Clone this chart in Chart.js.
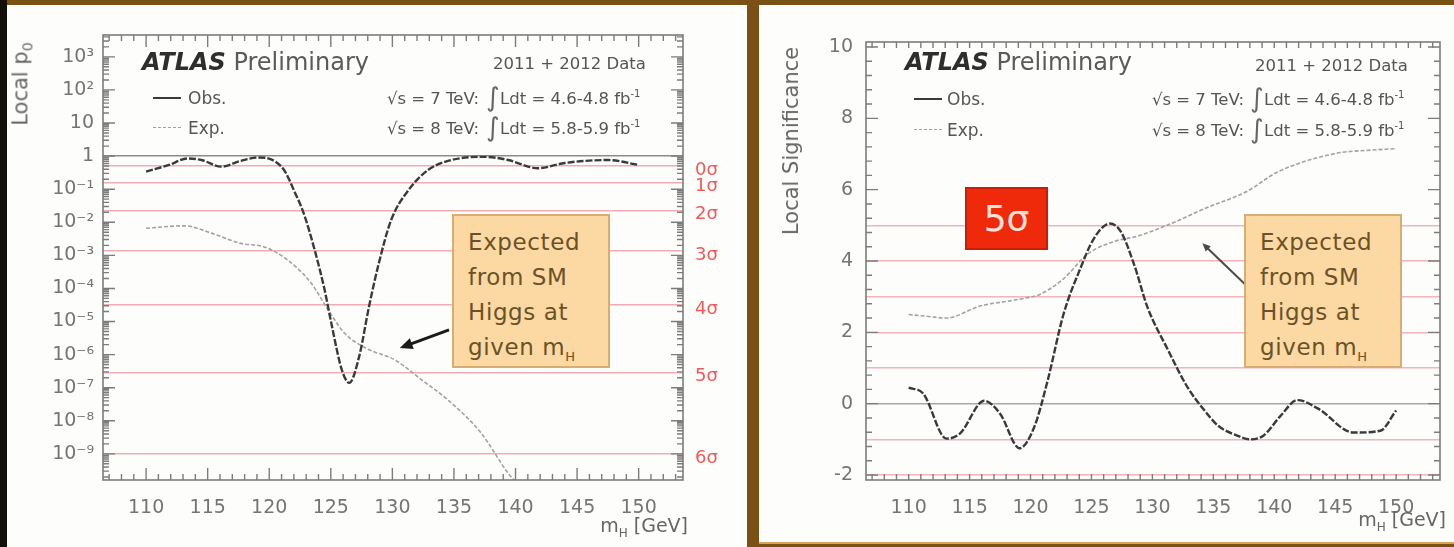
<!DOCTYPE html>
<html>
<head>
<meta charset="UTF-8">
<title>ATLAS local p0 and local significance</title>
<script src="https://cdn.jsdelivr.net/npm/chart.js"></script>
<style>
  body { margin: 0; width: 1454px; height: 547px; background: #7a5114; overflow: hidden; }
  #stage { position: absolute; left: 0; top: 0; width: 1454px; height: 547px; filter: blur(0.5px); }
  .box { position: absolute; }
  canvas { position: absolute; }
  .t { position: absolute; white-space: nowrap; transform: translateY(-50%); font-family: "DejaVu Sans", sans-serif; color: #4a4a4a; }
  .atlas b { font-style: italic; color: #2e2e2e; }
  .atlas { font-size: 24px; color: #5a5a5a; }
  .leg { font-size: 17px; color: #555; }
  .legline { position: absolute; width: 28px; }
  .info { font-size: 16.5px; color: #555; }
  .int { font-size: 26px; color: #666; }
  .ytitle { position: absolute; white-space: nowrap; font-family: "DejaVu Sans", sans-serif; font-size: 21px; color: #666; transform: translate(-50%, -50%) rotate(-90deg); }
  .xtitle { font-size: 19px; color: #666; }
  .note { position: absolute; background: #fcd9a3; border: 2px solid #d8ad74; box-sizing: border-box; }
  .note div { font-family: "DejaVu Sans", sans-serif; font-size: 23px; color: #6a5228; line-height: 35px; letter-spacing: 0.6px; padding: 9px 0 0 14px; }
  .five { position: absolute; background: #ee2a0a; border: 2px solid #c81e05; box-sizing: border-box; color: #ffe2da; font-family: "DejaVu Sans", sans-serif; font-size: 36px; text-align: center; line-height: 59px; }
</style>
</head>
<body>
<div id="stage">
  <!-- frame pieces -->
  <div class="box" style="left:0;top:0;width:7px;height:547px;background:#121008"></div>
  <div class="box" style="left:7px;top:5px;width:740px;height:542px;background:#fdfdfc"></div>
  <div class="box" style="left:747px;top:0;width:12px;height:547px;background:#7a5015"></div>
  <div class="box" style="left:759px;top:5px;width:695px;height:537px;background:#fdfdfc"></div>
  <div class="box" style="left:759px;top:542px;width:695px;height:2px;background:#d9a458"></div>

  <canvas id="pChart" width="738" height="539" style="left:8px;top:8px"></canvas>
  <canvas id="zChart" width="694" height="539" style="left:760px;top:8px"></canvas>

  <!-- left panel text -->
  <div class="ytitle" style="left:22px;top:84px">Local p<sub style="font-size:14px">0</sub></div>
  <div class="t atlas" style="left:142px;top:62px"><b>ATLAS</b> Preliminary</div>
  <div class="legline" style="left:153px;top:97px;border-top:2.5px solid #3a3a3a"></div>
  <div class="t leg" style="left:188px;top:98px">Obs.</div>
  <div class="legline" style="left:153px;top:127px;border-top:1.5px dashed #a0a0a0"></div>
  <div class="t leg" style="left:188px;top:128px">Exp.</div>
  <div class="t info" style="left:493px;top:63px">2011 + 2012 Data</div>
  <div class="t info" style="right:975px;top:98px">√s = 7 TeV:</div>
  <div class="t info" style="right:975px;top:128px">√s = 8 TeV:</div>
  <div class="t int" style="left:486px;top:97px">∫</div>
  <div class="t int" style="left:486px;top:127px">∫</div>
  <div class="t info" style="left:500px;top:98px">Ldt = 4.6-4.8 fb<sup style="font-size:10px">-1</sup></div>
  <div class="t info" style="left:500px;top:128px">Ldt = 5.8-5.9 fb<sup style="font-size:10px">-1</sup></div>
  <div class="note" style="left:452px;top:214px;width:158px;height:154px"><div>Expected<br>from SM<br>Higgs at<br>given m<sub style="font-size:13px">H</sub></div></div>
  <div class="t xtitle" style="right:766px;top:527px">m<sub style="font-size:12px">H</sub> [GeV]</div>

  <!-- right panel text -->
  <div class="ytitle" style="left:791px;top:141px">Local Significance</div>
  <div class="t atlas" style="left:905px;top:62px"><b>ATLAS</b> Preliminary</div>
  <div class="legline" style="left:914px;top:98px;border-top:2.5px solid #3a3a3a"></div>
  <div class="t leg" style="left:947px;top:99px">Obs.</div>
  <div class="legline" style="left:914px;top:129px;border-top:1.5px dashed #a0a0a0"></div>
  <div class="t leg" style="left:947px;top:130px">Exp.</div>
  <div class="t info" style="left:1255px;top:65px">2011 + 2012 Data</div>
  <div class="t info" style="right:210px;top:99px">√s = 7 TeV:</div>
  <div class="t info" style="right:210px;top:130px">√s = 8 TeV:</div>
  <div class="t int" style="left:1250px;top:98px">∫</div>
  <div class="t int" style="left:1250px;top:129px">∫</div>
  <div class="t info" style="left:1264px;top:99px">Ldt = 4.6-4.8 fb<sup style="font-size:10px">-1</sup></div>
  <div class="t info" style="left:1264px;top:130px">Ldt = 5.8-5.9 fb<sup style="font-size:10px">-1</sup></div>
  <div class="five" style="left:965px;top:187px;width:83px;height:63px">5σ</div>
  <div class="note" style="left:1244px;top:214px;width:158px;height:154px"><div>Expected<br>from SM<br>Higgs at<br>given m<sub style="font-size:13px">H</sub></div></div>
  <div class="t xtitle" style="right:8px;top:521px">m<sub style="font-size:12px">H</sub> [GeV]</div>
</div>

<script>
  // ---- data ----
  const massTicks = [110, 115, 120, 125, 130, 135, 140, 145, 150];

  const pDecades = [1e-9, 1e-8, 1e-7, 1e-6, 1e-5, 1e-4, 1e-3, 1e-2, 1e-1, 1, 10, 100, 1000];
  const pDecadeLabels = ['10⁻⁹', '10⁻⁸', '10⁻⁷', '10⁻⁶', '10⁻⁵', '10⁻⁴', '10⁻³', '10⁻²', '10⁻¹', '1', '10', '10²', '10³'];

  const sigmaP = [9.87e-10, 2.87e-7, 3.17e-5, 1.35e-3, 0.02275, 0.1587, 0.5];
  const sigmaLabels = ['6σ', '5σ', '4σ', '3σ', '2σ', '1σ', '0σ'];

  const obsMassP = [110.0, 111.8, 113.4, 114.5, 116.1, 117.7, 119.1, 120.1, 121.2, 122.0, 122.8, 123.7, 124.5, 125.1, 125.9, 126.5, 127.3, 128.1, 128.9, 129.9, 131.3, 132.9, 134.8, 137.5, 139.4, 141.8, 144.0, 147.5, 150.0];
  const obsP0 = [0.34, 0.53, 0.85, 0.76, 0.48, 0.72, 0.91, 0.81, 0.38, 0.093, 0.0186, 1.4e-3, 8.9e-5, 6.9e-6, 3.4e-7, 1.4e-7, 8.7e-7, 2.8e-5, 5.8e-4, 0.0117, 0.093, 0.38, 0.76, 0.95, 0.76, 0.43, 0.62, 0.76, 0.54];

  const expMassP = [110.0, 113.1, 115.3, 117.7, 119.6, 121.5, 123.4, 124.8, 126.1, 127.8, 130.2, 132.4, 134.5, 137.2, 139.4, 140.2];
  const expP0 = [6.6e-3, 7.8e-3, 4.7e-3, 2.3e-3, 1.8e-3, 7.2e-4, 1.45e-4, 2.2e-5, 4.5e-6, 1.6e-6, 6.9e-7, 1.7e-7, 4.3e-8, 4.3e-9, 2.6e-10, 1.2e-10];

  const sigTicks = [-2, 0, 2, 4, 6, 8, 10];
  const sigLines = [-2, -1, 0, 1, 2, 3, 4, 5];

  const obsMassZ = [110.0, 111.2, 113.1, 114.2, 116.2, 117.5, 119.1, 120.3, 121.4, 122.7, 124.1, 125.2, 126.5, 127.4, 128.5, 129.6, 131.2, 132.9, 134.3, 135.4, 137.0, 138.0, 139.1, 140.5, 141.9, 143.6, 146.5, 148.7, 150.0];
  const obsZ = [0.45, 0.28, -0.98, -0.84, 0.08, -0.28, -1.25, -0.66, 0.64, 2.5, 3.8, 4.63, 5.05, 4.83, 3.9, 2.7, 1.56, 0.45, -0.2, -0.62, -0.9, -1.0, -0.9, -0.35, 0.1, -0.14, -0.81, -0.76, -0.19];

  const expMassZ = [110.0, 111.5, 113.1, 115.8, 119.1, 120.8, 122.7, 124.7, 126.9, 128.8, 131.2, 134.5, 137.7, 140.3, 145.1, 147.5, 150.0];
  const expZ = [2.5, 2.45, 2.4, 2.73, 2.93, 3.07, 3.5, 4.2, 4.55, 4.7, 5.0, 5.5, 5.94, 6.5, 7.02, 7.1, 7.15];

  // axis ranges (ROOT frame edges)
  const massMin = 106.5, massMax = 153.6;
  const pMin = Math.pow(10, -9.79), pMax = Math.pow(10, 3.66);
  const zMin = -2.14, zMax = 10.14;

  // minor tick positions
  const massMinor = [];
  for (let m = 107; m <= 153; m++) massMinor.push(m);
  const pMinor = [];
  for (let e = -10; e <= 3; e++) for (let k = 2; k <= 9; k++) pMinor.push(k * Math.pow(10, e));
  const zMinor = [];
  for (let v = -2; v <= 10.001; v += 0.4) zMinor.push(Math.round(v * 10) / 10);

  const tickFont = { family: 'DejaVu Sans', size: 19 };
  const obsStyle = { borderColor: '#3a3a3a', borderWidth: 2.4, borderDash: [7, 2] };
  const expStyle = { borderColor: '#a2a2a2', borderWidth: 1.6, borderDash: [4, 2] };

  const pts = (xs, ys) => xs.map((x, i) => ({ x: x, y: ys[i] }));

  // ROOT style frame with inward ticks on all four sides
  function framePlugin(xMajor, xMinor, yMajor, yMinor) {
    return {
      id: 'frame',
      afterDatasetsDraw(chart) {
        const { ctx, chartArea: a, scales: { x, y } } = chart;
        const inX = v => v >= x.min && v <= x.max;
        const inY = v => v >= y.min && v <= y.max;
        ctx.save();
        ctx.strokeStyle = '#7c7c7c';
        ctx.lineWidth = 1.4;
        ctx.beginPath();
        const xt = (vals, len) => vals.filter(inX).forEach(v => {
          const px = x.getPixelForValue(v);
          ctx.moveTo(px, a.bottom); ctx.lineTo(px, a.bottom - len);
          ctx.moveTo(px, a.top); ctx.lineTo(px, a.top + len);
        });
        const yt = (vals, len) => vals.filter(inY).forEach(v => {
          const py = y.getPixelForValue(v);
          ctx.moveTo(a.left, py); ctx.lineTo(a.left + len, py);
          ctx.moveTo(a.right, py); ctx.lineTo(a.right - len, py);
        });
        xt(xMajor, 12); xt(xMinor, 6);
        yt(yMajor, 12); yt(yMinor, 6);
        ctx.stroke();
        ctx.lineWidth = 1.6;
        ctx.strokeRect(a.left, a.top, a.right - a.left, a.bottom - a.top);
        ctx.restore();
      }
    };
  }

  // annotation arrow given in data coordinates
  function arrowPlugin(from, to, color, width, head) {
    return {
      id: 'arrow',
      afterDatasetsDraw(chart) {
        const { ctx, scales: { x, y } } = chart;
        const x0 = x.getPixelForValue(from[0]), y0 = y.getPixelForValue(from[1]);
        const x1 = x.getPixelForValue(to[0]), y1 = y.getPixelForValue(to[1]);
        const ang = Math.atan2(y1 - y0, x1 - x0);
        ctx.save();
        ctx.strokeStyle = color;
        ctx.fillStyle = color;
        ctx.lineWidth = width;
        ctx.beginPath();
        ctx.moveTo(x0, y0);
        ctx.lineTo(x1 - Math.cos(ang) * head * 0.6, y1 - Math.sin(ang) * head * 0.6);
        ctx.stroke();
        ctx.beginPath();
        ctx.moveTo(x1, y1);
        ctx.lineTo(x1 - head * Math.cos(ang - 0.42), y1 - head * Math.sin(ang - 0.42));
        ctx.lineTo(x1 - head * Math.cos(ang + 0.42), y1 - head * Math.sin(ang + 0.42));
        ctx.closePath();
        ctx.fill();
        ctx.restore();
      }
    };
  }

  const massAxis = {
    type: 'linear', position: 'bottom', min: massMin, max: massMax,
    afterBuildTicks: s => { s.ticks = massTicks.map(v => ({ value: v })); },
    afterFit: s => { s.height = 67; },
    grid: { display: false },
    border: { display: false },
    ticks: { autoSkip: false, maxRotation: 0, padding: 9, color: '#747474', font: tickFont, callback: v => String(v) }
  };

  // ---- left: local p0 ----
  new Chart(document.getElementById('pChart'), {
    type: 'line',
    data: {
      datasets: [
        Object.assign({ label: 'Obs.', data: pts(obsMassP, obsP0) }, obsStyle),
        Object.assign({ label: 'Exp.', data: pts(expMassP, expP0) }, expStyle)
      ]
    },
    options: {
      responsive: false, animation: false, devicePixelRatio: 1,
      layout: { padding: { top: 27, left: 0, right: 0, bottom: 0 } },
      elements: { point: { radius: 0 }, line: { cubicInterpolationMode: 'monotone' } },
      plugins: { legend: { display: false }, tooltip: { enabled: false } },
      scales: {
        x: massAxis,
        y: {
          type: 'logarithmic', position: 'left', min: pMin, max: pMax,
          afterBuildTicks: s => { s.ticks = pDecades.map(v => ({ value: v })); },
          afterFit: s => { s.width = 95; },
          grid: { drawTicks: false, lineWidth: 1.5, color: c => (c.tick && c.tick.value === 1) ? '#8c8c8c' : 'rgba(0,0,0,0)' },
          border: { display: false },
          ticks: { autoSkip: false, padding: 9, color: '#747474', font: tickFont, callback: (v, i) => pDecadeLabels[i] }
        },
        sig: {
          type: 'logarithmic', position: 'right', min: pMin, max: pMax,
          afterBuildTicks: s => { s.ticks = sigmaP.map(v => ({ value: v })); },
          afterFit: s => { s.width = 63; },
          grid: { drawTicks: false, lineWidth: 1.5, color: 'rgba(232,120,130,0.6)' },
          border: { display: false },
          ticks: { autoSkip: false, padding: 12, labelOffset: 4, color: '#ee5a5a', font: { family: 'DejaVu Sans', size: 18 }, callback: (v, i) => sigmaLabels[i] }
        }
      }
    },
    plugins: [
      framePlugin(massTicks, massMinor, pDecades, pMinor),
      arrowPlugin([134.6, Math.pow(10, -5.25)], [130.6, Math.pow(10, -5.8)], '#1a1a1a', 3, 14)
    ]
  });

  // ---- right: local significance ----
  new Chart(document.getElementById('zChart'), {
    type: 'line',
    data: {
      datasets: [
        Object.assign({ label: 'Obs.', data: pts(obsMassZ, obsZ) }, obsStyle),
        Object.assign({ label: 'Exp.', data: pts(expMassZ, expZ) }, expStyle)
      ]
    },
    options: {
      responsive: false, animation: false, devicePixelRatio: 1,
      layout: { padding: { top: 34, left: 0, right: 14, bottom: 0 } },
      elements: { point: { radius: 0 }, line: { cubicInterpolationMode: 'monotone' } },
      plugins: { legend: { display: false }, tooltip: { enabled: false } },
      scales: {
        x: massAxis,
        y: {
          type: 'linear', position: 'left', min: zMin, max: zMax,
          afterBuildTicks: s => { s.ticks = sigTicks.map(v => ({ value: v })); },
          afterFit: s => { s.width = 106; },
          grid: { display: false },
          border: { display: false },
          ticks: { autoSkip: false, padding: 5, color: '#747474', font: tickFont, callback: v => String(v) }
        },
        yg: {
          type: 'linear', position: 'right', min: zMin, max: zMax,
          afterBuildTicks: s => { s.ticks = sigLines.map(v => ({ value: v })); },
          afterFit: s => { s.width = 0; },
          grid: { drawTicks: false, lineWidth: 1.5, color: c => (c.tick && c.tick.value === 0) ? '#a8a8a8' : 'rgba(232,120,130,0.55)' },
          border: { display: false },
          ticks: { display: false }
        }
      }
    },
    plugins: [
      framePlugin(sigTicks, massMinor, sigTicks, zMinor),
      arrowPlugin([137.6, 3.35], [134.1, 4.5], '#4a4a4a', 2, 9)
    ]
  });
</script>
</body>
</html>
